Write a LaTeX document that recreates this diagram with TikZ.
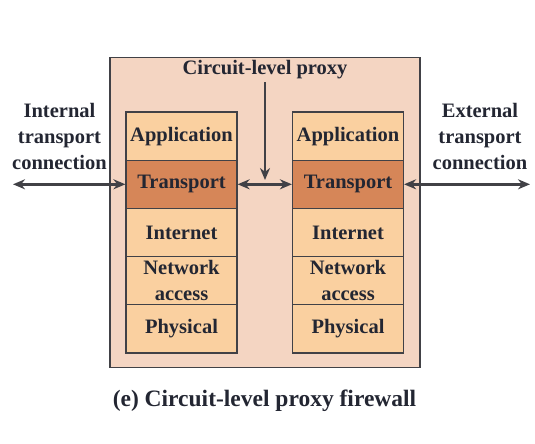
\documentclass[tikz,border=0pt]{standalone}
\usepackage{fontspec}
\newfontfamily\tfont{Liberation Serif}[BoldFont={Liberation Serif Bold}]
\usetikzlibrary{arrows.meta}
\definecolor{outerfill}{RGB}{244,213,194}
\definecolor{layerfill}{RGB}{250,208,160}
\definecolor{transfill}{RGB}{214,134,88}
\definecolor{linecol}{RGB}{65,65,70}
\definecolor{textcol}{RGB}{35,38,50}
\begin{document}
\begin{tikzpicture}[x=1pt,y=-1pt,
  lbl/.style={font=\tfont\bfseries\fontsize{20.5}{26}\selectfont, text=textcol, align=center, inner sep=0pt},
  layer/.style={draw=linecol, line width=1.2pt, fill=layerfill, minimum width=111pt, minimum height=48.2pt, inner sep=0pt, font=\tfont\bfseries\fontsize{20.5}{26}\selectfont, text=textcol, align=center},
  translayer/.style={layer, fill=transfill},
  conn/.style={draw=linecol, line width=2.4pt, {Stealth[length=12pt,width=10pt]}-{Stealth[length=12pt,width=10pt]}},
  oneway/.style={draw=linecol, line width=2.4pt, -{Stealth[length=12pt,width=10pt]}}
]
\useasboundingbox (0,0) rectangle (535,444);
\node[draw=linecol, line width=1.5pt, fill=outerfill, minimum width=310pt, minimum height=310pt, inner sep=0pt] (fw) at (265,212.5) {};
% left stack
\node[layer] (la) at (181.5,136.1) {Application};
\node[translayer] (lt) at (181.5,184.3) {Transport};
\node[layer] (li) at (181.5,232.5) {Internet};
\node[layer] (ln) at (181.5,280.7) {Network\\access};
\node[layer] (lp) at (181.5,328.9) {Physical};
% right stack
\node[layer] (ra) at (348,136.1) {Application};
\node[translayer] (rt) at (348,184.3) {Transport};
\node[layer] (ri) at (348,232.5) {Internet};
\node[layer] (rn) at (348,280.7) {Network\\access};
\node[layer] (rp) at (348,328.9) {Physical};
% labels
\node[lbl] (proxy) at (265,70) {Circuit-level proxy};
\node[lbl] (internal) at (59.5,136) {Internal\\transport\\connection};
\node[lbl] (external) at (480,136) {External\\transport\\connection};
\node[font=\tfont\bfseries\fontsize{23.5}{28}\selectfont, text=textcol, inner sep=0pt] (caption) at (264.5,401) {(e) Circuit-level proxy firewall};
% connectors
\coordinate (inend) at (13,184.3);
\coordinate (exend) at (530,184.3);
\coordinate (proxyend) at (265,180);
\draw[conn] (inend) -- (lt.west);
\draw[conn] (lt.east) -- (rt.west);
\draw[conn] (rt.east) -- (exend);
\draw[oneway] (265,82) -- (proxyend);
\end{tikzpicture}
\end{document}
